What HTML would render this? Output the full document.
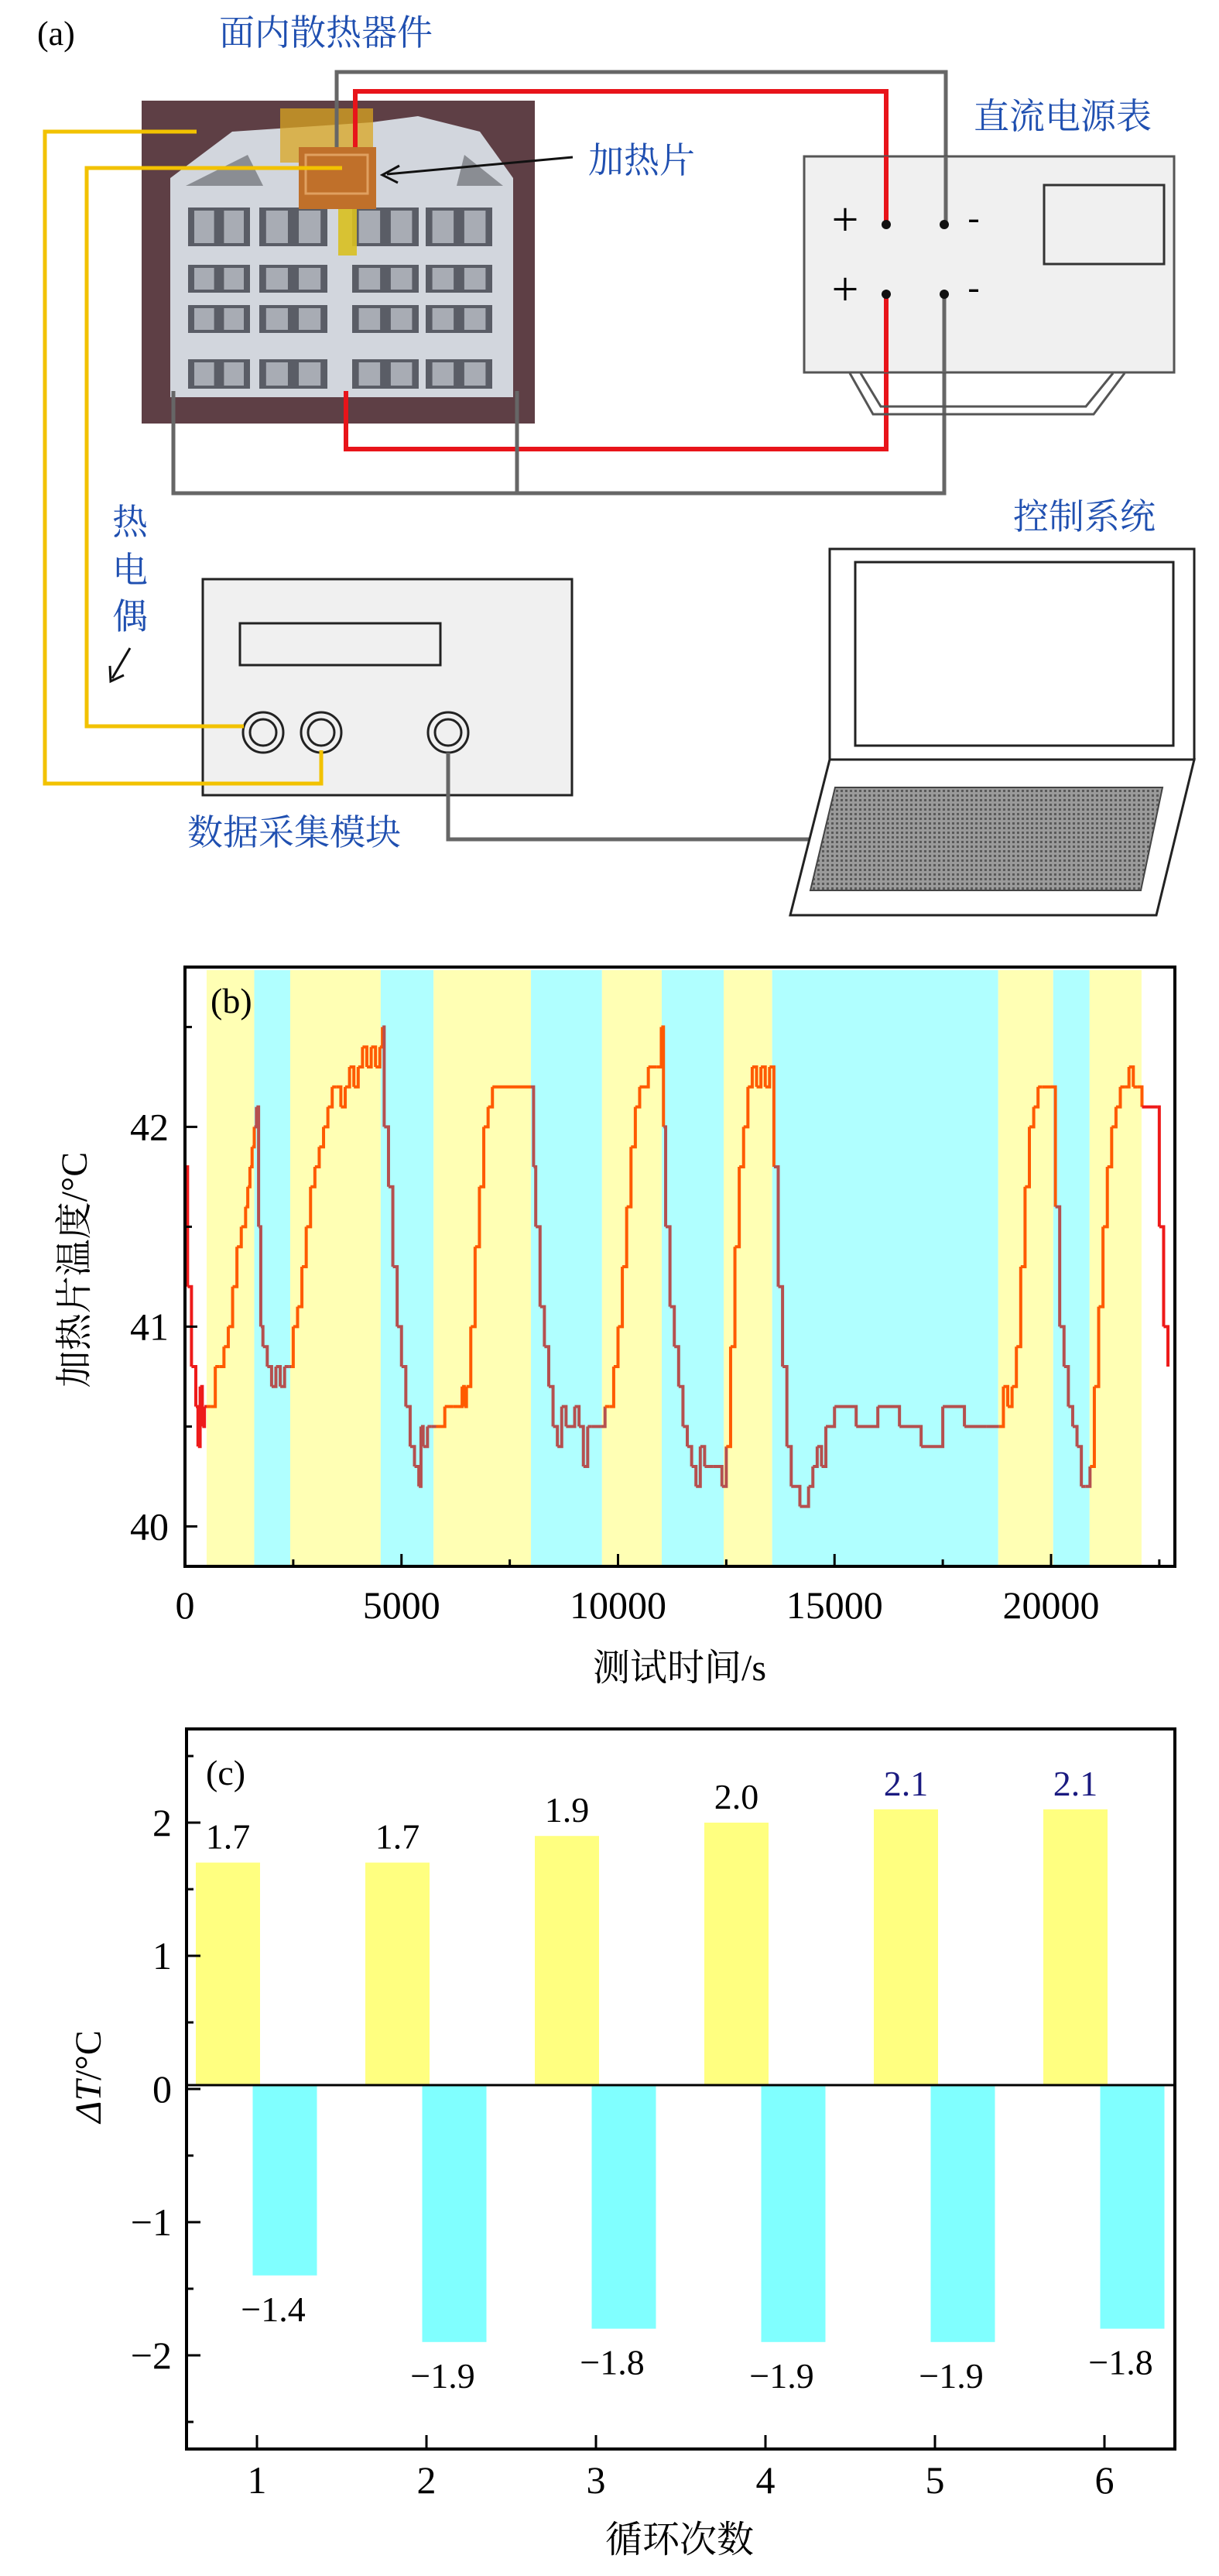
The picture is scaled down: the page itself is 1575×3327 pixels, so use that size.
<!DOCTYPE html>
<html><head><meta charset="utf-8">
<style>
html,body{margin:0;padding:0;background:#fff;}
svg{display:block;}
.serif{font-family:"Liberation Serif","Noto Serif CJK SC",serif;}
.cjk{font-family:"Liberation Serif","Noto Serif CJK SC",serif;}
</style></head>
<body>
<svg id="fig" width="1575" height="3327" viewBox="0 0 1575 3327" xmlns="http://www.w3.org/2000/svg">
<g id="panel-a">
  <text x="48" y="58" font-size="44" class="serif">(a)</text>
  <text x="283" y="58" font-size="46" fill="#1f4fb0" class="cjk">面内散热器件</text>
  <g>
    <rect x="183" y="130" width="508" height="417" fill="#5e3f45"/>
    <polygon points="220,230 300,170 480,158 540,150 620,170 663,230 663,513 220,513" fill="#d2d6dd"/>
    <polygon points="240,240 320,200 340,240" fill="#8a8d93"/>
    <polygon points="600,200 650,240 590,240" fill="#8a8d93"/>
    <g id="cells"></g>
    <rect x="437" y="262" width="24" height="68" fill="#d8c020" opacity="0.9"/>
    <rect x="362" y="140" width="120" height="70" fill="#d9a520" opacity="0.75"/>
    <rect x="386" y="190" width="100" height="80" fill="#c0702a"/>
    <rect x="395" y="200" width="80" height="50" fill="none" stroke="#e0a060" stroke-width="3"/>
  </g>
  <polyline points="435,190 435,93 1222,93 1222,288" fill="none" stroke="#666" stroke-width="5"/>
  <polyline points="459,190 459,118 1145,118 1145,288" fill="none" stroke="#e8141a" stroke-width="6"/>
  <polyline points="447,505 447,580 1145,580 1145,380" fill="none" stroke="#e8141a" stroke-width="6"/>
  <polyline points="224,505 224,637 1220,637 1220,380" fill="none" stroke="#666" stroke-width="5"/>
  <line x1="668" y1="505" x2="668" y2="637" stroke="#666" stroke-width="5"/>
  <g>
    <polyline points="1098,482 1128,535 1413,535 1453,482" fill="none" stroke="#555" stroke-width="3"/>
    <polyline points="1112,482 1138,525 1403,525 1438,482" fill="none" stroke="#555" stroke-width="3"/>
    <rect x="1039" y="202" width="478" height="279" fill="#f0f0f0" stroke="#555" stroke-width="3"/>
    <line x1="1145" y1="202" x2="1145" y2="288" stroke="#e8141a" stroke-width="6"/>
    <line x1="1222" y1="202" x2="1222" y2="288" stroke="#666" stroke-width="5"/>
    <line x1="1145" y1="380" x2="1145" y2="481" stroke="#e8141a" stroke-width="6"/>
    <line x1="1220" y1="380" x2="1220" y2="481" stroke="#666" stroke-width="5"/>
    <rect x="1349" y="239" width="155" height="102" fill="none" stroke="#333" stroke-width="3"/>
    <text x="1092" y="304" font-size="62" text-anchor="middle" class="serif">+</text>
    <text x="1092" y="394" font-size="62" text-anchor="middle" class="serif">+</text>
    <text x="1258" y="296" font-size="46" text-anchor="middle" class="serif">-</text>
    <text x="1258" y="386" font-size="46" text-anchor="middle" class="serif">-</text>
    <circle cx="1145" cy="290" r="6" fill="#111"/><circle cx="1220" cy="290" r="6" fill="#111"/>
    <circle cx="1145" cy="380" r="6" fill="#111"/><circle cx="1220" cy="380" r="6" fill="#111"/>
  </g>
  <text x="1258" y="166" font-size="46" fill="#1f4fb0" class="cjk">直流电源表</text>
  <text x="760" y="223" font-size="46" fill="#1f4fb0" class="cjk">加热片</text>
  <line x1="740" y1="203" x2="500" y2="225" stroke="#111" stroke-width="3"/>
  <polyline points="516,214 494,226 514,236" fill="none" stroke="#111" stroke-width="3"/>
  <polyline points="254,170 58,170 58,1012 415,1012 415,969" fill="none" stroke="#f2c200" stroke-width="5"/>
  <polyline points="442,217 112,217 112,938 315,938" fill="none" stroke="#f2c200" stroke-width="5"/>
  <g fill="#1f4fb0" font-size="46" class="cjk">
    <text x="168" y="690" text-anchor="middle">热</text>
    <text x="168" y="752" text-anchor="middle">电</text>
    <text x="168" y="812" text-anchor="middle">偶</text>
  </g>
  <line x1="168" y1="837" x2="145" y2="876" stroke="#111" stroke-width="3"/>
  <polyline points="142,860 143,880 160,872" fill="none" stroke="#111" stroke-width="3"/>
  <g>
    <rect x="262" y="748" width="477" height="279" fill="#f0f0f0" stroke="#222" stroke-width="3"/>
    <rect x="310" y="805" width="259" height="54" fill="none" stroke="#222" stroke-width="3"/>
    <circle cx="340" cy="946" r="26" fill="#f0f0f0" stroke="#222" stroke-width="3"/><circle cx="340" cy="946" r="17" fill="none" stroke="#222" stroke-width="3"/>
    <circle cx="415" cy="946" r="26" fill="#f0f0f0" stroke="#222" stroke-width="3"/><circle cx="415" cy="946" r="17" fill="none" stroke="#222" stroke-width="3"/>
    <circle cx="579" cy="946" r="26" fill="#f0f0f0" stroke="#222" stroke-width="3"/><circle cx="579" cy="946" r="17" fill="none" stroke="#222" stroke-width="3"/>
    <polyline points="112,938 315,938" stroke="#f2c200" stroke-width="5"/>
    <polyline points="58,1012 415,1012 415,969" fill="none" stroke="#f2c200" stroke-width="5"/>
  </g>
  <polyline points="579,972 579,1084 1047,1084" fill="none" stroke="#666" stroke-width="5"/>
  <text x="242" y="1091" font-size="46" fill="#1f4fb0" class="cjk">数据采集模块</text>
  <defs>
    <pattern id="kb" width="6" height="6" patternUnits="userSpaceOnUse">
      <rect width="6" height="6" fill="#9a9a9a"/><rect width="3" height="3" fill="#5a5a5a"/>
    </pattern>
  </defs>
  <g>
    <rect x="1072" y="709" width="471" height="272" fill="#fff" stroke="#222" stroke-width="3"/>
    <rect x="1105" y="726" width="411" height="237" fill="#fff" stroke="#222" stroke-width="3"/>
    <polygon points="1072,981 1543,981 1494,1182 1021,1182" fill="#fff" stroke="#222" stroke-width="3"/>
    <polygon points="1079,1017 1502,1017 1474,1150 1047,1150" fill="url(#kb)" stroke="#444" stroke-width="2"/>
  </g>
  <text x="1309" y="683" font-size="46" fill="#1f4fb0" class="cjk">控制系统</text>
</g>
<g id="panel-b"></g>
<g id="panel-c"></g>
</svg>

<script>
const bandStarts = [500, 1600, 2430, 4520, 5740, 7990, 9630, 11010, 12440, 13560, 18780, 20050, 20890];
const bandEnds   = [1600, 2430, 4520, 5740, 7990, 9630, 11010, 12440, 13560, 18780, 20050, 20890, 22090];
const bandKinds  = ['heat','cool','heat','cool','heat','cool','heat','cool','heat','cool','heat','cool','heat'];
const sampleTimes = [0,60,150,250,300,350,400,450,500,600,700,800,900,1000,1100,1200,1300,1400,1450,1500,1550,1600,1650,1700,1750,1800,1900,2000,2100,2200,2300,2400,2450,2500,2600,2700,2800,2900,3000,3100,3200,3300,3400,3500,3600,3700,3800,3900,4000,4100,4200,4300,4400,4500,4560,4600,4700,4800,4900,5000,5100,5200,5300,5400,5450,5500,5600,5700,5800,6000,6200,6300,6400,6450,6500,6600,6700,6800,6900,7000,7100,7990,8050,8100,8200,8300,8400,8500,8600,8700,8800,9000,9100,9200,9300,9400,9600,9700,9800,9900,10000,10100,10200,10300,10400,10500,10700,10900,11000,11050,11100,11200,11300,11400,11500,11600,11700,11800,11900,12000,12200,12400,12500,12600,12700,12800,12900,13000,13100,13200,13300,13400,13500,13600,13700,13800,13900,14000,14200,14400,14500,14600,14700,14800,15000,15500,16000,16500,17000,17500,18000,18500,18800,18900,19000,19100,19200,19300,19400,19500,19600,19700,19800,20000,20100,20200,20300,20400,20500,20600,20700,20800,20900,21000,21100,21200,21300,21400,21500,21600,21700,21800,21900,22000,22100,22450,22500,22600,22700];
const sampleTemps = [41.8,41.2,40.8,40.6,40.4,40.7,40.5,40.6,40.6,40.6,40.8,40.8,40.9,41.0,41.2,41.4,41.5,41.6,41.7,41.8,41.9,42.0,42.1,41.5,41.0,40.9,40.8,40.7,40.8,40.7,40.8,40.8,40.8,41.0,41.1,41.3,41.5,41.7,41.8,41.9,42.0,42.1,42.2,42.2,42.1,42.2,42.3,42.2,42.3,42.4,42.3,42.4,42.3,42.4,42.5,42.0,41.7,41.3,41.0,40.8,40.6,40.4,40.3,40.2,40.5,40.4,40.5,40.5,40.5,40.6,40.6,40.6,40.7,40.6,40.7,41.0,41.4,41.7,42.0,42.1,42.2,42.2,41.8,41.5,41.1,40.9,40.7,40.5,40.4,40.6,40.5,40.6,40.5,40.3,40.5,40.5,40.5,40.6,40.6,40.8,41.0,41.3,41.6,41.9,42.1,42.2,42.3,42.3,42.5,42.0,41.5,41.1,40.9,40.7,40.5,40.4,40.3,40.2,40.4,40.3,40.3,40.2,40.4,40.9,41.4,41.8,42.0,42.2,42.3,42.2,42.3,42.2,42.3,41.8,41.2,40.8,40.4,40.2,40.1,40.2,40.3,40.4,40.3,40.5,40.6,40.5,40.6,40.5,40.4,40.6,40.5,40.5,40.5,40.7,40.6,40.7,40.9,41.3,41.7,42.0,42.1,42.2,42.2,42.2,41.6,41.0,40.8,40.6,40.5,40.4,40.2,40.2,40.3,40.7,41.1,41.5,41.8,42.0,42.1,42.2,42.2,42.3,42.2,42.2,42.1,42.1,41.5,41.0,40.8];
const xTickValuesB = [0, 5000, 10000, 15000, 20000];
const xTickLabelsB = ['0', '5000', '10000', '15000', '20000'];
const yTickValuesB = [40, 41, 42];
const yTickLabelsB = ['40', '41', '42'];

const cycles = [1, 2, 3, 4, 5, 6];
const heatDeltas = [1.7, 1.7, 1.9, 2.0, 2.1, 2.1];
const coolDeltas = [-1.4, -1.9, -1.8, -1.9, -1.9, -1.8];
const heatLabels = ['1.7', '1.7', '1.9', '2.0', '2.1', '2.1'];
const coolLabels = ['\u22121.4', '\u22121.9', '\u22121.8', '\u22121.9', '\u22121.9', '\u22121.8'];
const yTickValuesC = [-2, -1, 0, 1, 2];
const yTickLabelsC = ['\u22122', '\u22121', '0', '1', '2'];

const NS = 'http://www.w3.org/2000/svg';
function mk(tag, attrs, parent) {
  const e = document.createElementNS(NS, tag);
  for (const k in attrs) e.setAttribute(k, attrs[k]);
  parent.appendChild(e);
  return e;
}

(function(){
  const g = document.getElementById('cells');
  const rows = [[268,318],[342,378],[394,430],[464,502]];
  const cols = [[243,323],[335,423],[455,541],[550,636]];
  rows.forEach(r => cols.forEach(c => {
    const w = c[1]-c[0];
    mk('rect', {x:c[0], y:r[0], width:w, height:r[1]-r[0], fill:'#5a5d66'}, g);
    mk('rect', {x:c[0]+w*0.1, y:r[0]+4, width:w*0.32, height:r[1]-r[0]-8, fill:'#a8acb4'}, g);
    mk('rect', {x:c[0]+w*0.58, y:r[0]+4, width:w*0.32, height:r[1]-r[0]-8, fill:'#a8acb4'}, g);
  }));
})();

(function(){
  const g = document.getElementById('panel-b');
  const L = 239, R = 1518, T = 1249, B = 2023;
  const xMin = 0, xMax = 22860, yMin = 39.8, yMax = 42.8;
  const xs = v => L + (v - xMin) / (xMax - xMin) * (R - L);
  const ys = v => B - (v - yMin) / (yMax - yMin) * (B - T);

  for (let i = 0; i < bandStarts.length; i++) {
    const r = mk('rect', {x: xs(bandStarts[i]), y: T + 4, width: xs(bandEnds[i]) - xs(bandStarts[i]), height: B - T - 6,
      fill: bandKinds[i] === 'heat' ? '#ffffb4' : '#b0ffff'}, g);
    
    
  }
  function colorAt(t) {
    for (let i = 0; i < bandStarts.length; i++) {
      if (t >= bandStarts[i] && t < bandEnds[i]) return bandKinds[i] === 'heat' ? '#ff5a00' : '#b5504f';
    }
    return '#ee1a1a';
  }
  for (let i = 0; i < sampleTimes.length - 1; i++) {
    const x0 = xs(sampleTimes[i]), x1 = xs(sampleTimes[i+1]);
    const y0 = ys(sampleTemps[i]), y1 = ys(sampleTemps[i+1]);
    const p = mk('polyline', {points: `${x0},${y0} ${x1},${y0} ${x1},${y1}`, fill: 'none',
      stroke: colorAt(sampleTimes[i]), 'stroke-width': 4}, g);
    
    
  }
  const fr = mk('rect', {x: L, y: T, width: R - L, height: B - T, fill: 'none', stroke: '#000', 'stroke-width': 4}, g);
  
  
  for (let v = 0; v <= 22500; v += 2500) {
    const major = v % 5000 === 0;
    mk('line', {x1: xs(v), x2: xs(v), y1: B, y2: B - (major ? 16 : 9), stroke: '#000', 'stroke-width': 3}, g);
  }
  xTickValuesB.forEach((v, i) => {
    const t = mk('text', {x: xs(v), y: 2090, 'font-size': 50, 'text-anchor': 'middle', class: 'serif'}, g);
    t.textContent = xTickLabelsB[i];
    
    
  });
  for (let v = 40; v <= 42.5; v += 0.5) {
    const major = Math.abs(v - Math.round(v)) < 1e-6;
    mk('line', {x1: L, x2: L + (major ? 16 : 9), y1: ys(v), y2: ys(v), stroke: '#000', 'stroke-width': 3}, g);
  }
  yTickValuesB.forEach((v, i) => {
    const t = mk('text', {x: 218, y: ys(v) + 17, 'font-size': 50, 'text-anchor': 'end', class: 'serif'}, g);
    t.textContent = yTickLabelsB[i];
    
    
  });
  const lb = mk('text', {x: 272, y: 1308, 'font-size': 46, class: 'serif'}, g);
  lb.textContent = '(b)';
  
  
  const xt = mk('text', {x: 878, y: 2170, 'font-size': 48, 'text-anchor': 'middle', class: 'cjk'}, g);
  xt.textContent = '测试时间/s';
  
  
  const yt = mk('text', {x: 0, y: 0, 'font-size': 48, 'text-anchor': 'middle', class: 'cjk',
    transform: 'translate(112,1640) rotate(-90)'}, g);
  yt.textContent = '加热片温度/°C';
  
  
})();

(function(){
  const g = document.getElementById('panel-c');
  const L = 241, R = 1518, T = 2233, B = 3163;
  const unit = 172, zeroY = 2698;
  const ys = v => zeroY - v * unit;
  const xs = k => 332 + (k - 1) * 219;
  const bw = 83;
  cycles.forEach((k, i) => {
    const hy = ys(heatDeltas[i]);
    const hb = mk('rect', {x: xs(k) - 37.5 - bw/2, y: hy, width: bw, height: 2693 - hy, fill: '#ffff80'}, g);
    
    
    const cy = ys(coolDeltas[i]);
    const cb = mk('rect', {x: xs(k) + 36 - bw/2, y: 2693, width: bw, height: cy - 2693, fill: '#80ffff'}, g);
    
    
    const ht = mk('text', {x: xs(k) - 37.5, y: hy - 18, 'font-size': 46, 'text-anchor': 'middle', class: 'serif',
      fill: heatDeltas[i] >= 2.1 ? '#1a1a80' : '#000'}, g);
    ht.textContent = heatLabels[i];
    
    
    const ct = mk('text', {x: xs(k) + 21, y: cy + 59, 'font-size': 46, 'text-anchor': 'middle', class: 'serif'}, g);
    ct.textContent = coolLabels[i];
    
    
  });
  const zl = mk('line', {x1: L, x2: R, y1: 2693, y2: 2693, stroke: '#000', 'stroke-width': 3}, g);
  
  
  const fr = mk('rect', {x: L, y: T, width: R - L, height: B - T, fill: 'none', stroke: '#000', 'stroke-width': 4}, g);
  
  
  for (let v = -2.5; v <= 2.5; v += 0.5) {
    const major = Math.abs(v - Math.round(v)) < 1e-6;
    mk('line', {x1: L, x2: L + (major ? 18 : 9), y1: ys(v), y2: ys(v), stroke: '#000', 'stroke-width': 3}, g);
  }
  yTickValuesC.forEach((v, i) => {
    const t = mk('text', {x: 222, y: ys(v) + 17, 'font-size': 50, 'text-anchor': 'end', class: 'serif'}, g);
    t.textContent = yTickLabelsC[i];
    
    
  });
  cycles.forEach(k => {
    mk('line', {x1: xs(k), x2: xs(k), y1: B, y2: B - 18, stroke: '#000', 'stroke-width': 3}, g);
    const t = mk('text', {x: xs(k), y: 3220, 'font-size': 50, 'text-anchor': 'middle', class: 'serif'}, g);
    t.textContent = String(k);
    
    
  });
  const lc = mk('text', {x: 266, y: 2305, 'font-size': 46, class: 'serif'}, g);
  lc.textContent = '(c)';
  
  
  const xt = mk('text', {x: 878, y: 3296, 'font-size': 48, 'text-anchor': 'middle', class: 'cjk'}, g);
  xt.textContent = '循环次数';
  
  
  const yt = mk('text', {x: 0, y: 0, 'font-size': 48, 'text-anchor': 'middle', class: 'serif',
    transform: 'translate(130,2682) rotate(-90)'}, g);
  yt.innerHTML = '<tspan font-style="italic">ΔT</tspan>/°C';
  
  
})();
</script>
</body></html>
